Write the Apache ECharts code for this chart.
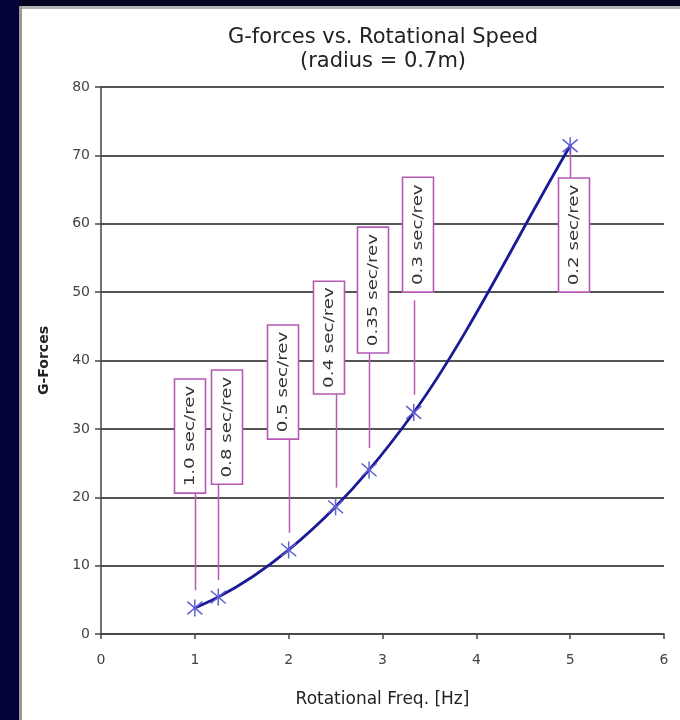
<!DOCTYPE html>
<html>
<head>
<meta charset="utf-8">
<script src="https://cdn.jsdelivr.net/npm/echarts@6/dist/echarts.min.js"></script>
<style>
  html, body { margin: 0; padding: 0; background: #fff; }
  #chart { width: 680px; height: 720px; }
</style>
</head>
<body>
<div id="chart"></div>
<script>
// Rotational frequency [Hz] and resulting G-forces (radius = 0.7 m)
const freq = [1, 1.25, 2, 2.5, 2.857, 3.333, 5];
const gForce = [3.8, 5.4, 12.3, 18.6, 24.0, 32.4, 71.4];

// Callout boxes: period per revolution for each point
const periodLabels = ['1.0 sec/rev', '0.8 sec/rev', '0.5 sec/rev', '0.4 sec/rev', '0.35 sec/rev', '0.3 sec/rev', '0.2 sec/rev'];
const boxCenterX = [0.943, 1.337, 1.934, 2.425, 2.894, 3.373, 5.036];
const boxBottom = [20.6, 21.9, 28.5, 35.1, 41.1, 50.0, 50.0];
const boxTop = [37.3, 38.6, 45.2, 51.6, 59.5, 66.8, 66.7];
const leaderFrom = [20.6, 21.9, 28.5, 35.1, 41.1, 48.8, 66.7];
const leaderTo = [6.4, 7.9, 14.8, 21.4, 27.2, 35.0, 71.4];

// Axis ticks
const xTicks = [0, 1, 2, 3, 4, 5, 6];
const yTicks = [0, 10, 20, 30, 40, 50, 60, 70, 80];

const FONT = 'DejaVu Sans';
const chart = echarts.init(document.getElementById('chart'), null, { renderer: 'canvas' });

const points = freq.map((f, i) => [f, gForce[i]]);
const callouts = periodLabels.map((t, i) => [boxCenterX[i], boxBottom[i], boxTop[i], freq[i], leaderFrom[i], leaderTo[i]]);

// Each curve segment carries its neighbours so a cubic Hermite piece can be built
const n = freq.length;
const segments = [];
for (let i = 0; i < n - 1; i++) {
  const a = Math.max(i - 1, 0), d = Math.min(i + 2, n - 1);
  segments.push([freq[a], gForce[a], freq[i], gForce[i], freq[i + 1], gForce[i + 1], freq[d], gForce[d]]);
}

// slope (pixel space) at pb from its neighbours, weighted by spacing
function tangent(pa, pb, pc) {
  const h0 = pb[0] - pa[0], h1 = pc[0] - pb[0];
  const s1 = (pc[1] - pb[1]) / h1;
  if (h0 === 0) return s1;
  const s0 = (pb[1] - pa[1]) / h0;
  if (h1 === 0) return s0;
  return (s0 * h1 + s1 * h0) / (h0 + h1);
}

chart.setOption({
  backgroundColor: '#ffffff',
  animation: false,
  title: {
    text: 'G-forces vs. Rotational Speed\n(radius = 0.7m)',
    left: 378, top: 21,
    textAlign: 'center',
    textStyle: { fontFamily: FONT, fontSize: 21, fontWeight: 'normal', color: '#222', lineHeight: 24 }
  },
  graphic: [
    { type: 'rect', shape: { x: 0, y: 0, width: 680, height: 6 }, style: { fill: '#04031f' }, silent: true },
    { type: 'rect', shape: { x: 0, y: 0, width: 19, height: 720 }, style: { fill: '#020236' }, silent: true },
    { type: 'rect', shape: { x: 19, y: 6, width: 661, height: 3 }, style: { fill: '#b4b4b4' }, silent: true },
    { type: 'rect', shape: { x: 19, y: 6, width: 3, height: 714 }, style: { fill: '#9a9a9a' }, silent: true }
  ],
  grid: { left: 101, right: 16, top: 87, bottom: 86 },
  xAxis: {
    type: 'value',
    min: xTicks[0], max: xTicks[xTicks.length - 1], interval: 1,
    name: 'Rotational Freq. [Hz]',
    nameLocation: 'middle', nameGap: 57,
    nameTextStyle: { fontFamily: FONT, fontSize: 17, color: '#222' },
    axisLine: { lineStyle: { color: '#444', width: 1.5 } },
    axisTick: { show: true, length: 5, lineStyle: { color: '#444', width: 1.5 } },
    axisLabel: { fontFamily: FONT, fontSize: 14, color: '#444', margin: 19 },
    splitLine: { show: false }
  },
  yAxis: {
    type: 'value',
    min: yTicks[0], max: yTicks[yTicks.length - 1], interval: 10,
    name: 'G-Forces',
    nameLocation: 'middle', nameGap: 50, nameRotate: 90,
    nameTextStyle: { fontFamily: FONT, fontSize: 14, fontWeight: 'bold', color: '#222' },
    axisLine: { show: true, lineStyle: { color: '#444', width: 1.5 } },
    axisTick: { show: true, length: 6, lineStyle: { color: '#444', width: 1.5 } },
    axisLabel: { fontFamily: FONT, fontSize: 14, color: '#444', margin: 11 },
    splitLine: { show: true, lineStyle: { color: '#555', width: 1.8 } }
  },
  series: [
    {
      // smoothed curve through the measured points
      type: 'custom',
      data: segments,
      z: 3,
      renderItem: function (params, api) {
        const p0 = api.coord([api.value(0), api.value(1)]);
        const p1 = api.coord([api.value(2), api.value(3)]);
        const p2 = api.coord([api.value(4), api.value(5)]);
        const p3 = api.coord([api.value(6), api.value(7)]);
        const m1 = tangent(p0, p1, p2);
        const m2 = tangent(p1, p2, p3);
        const h = (p2[0] - p1[0]) / 3;
        return {
          type: 'bezierCurve',
          shape: {
            x1: p1[0], y1: p1[1], x2: p2[0], y2: p2[1],
            cpx1: p1[0] + h, cpy1: p1[1] + m1 * h,
            cpx2: p2[0] - h, cpy2: p2[1] - m2 * h
          },
          style: { stroke: '#1a1a96', lineWidth: 2.8, fill: null, lineCap: 'round' }
        };
      }
    },
    {
      // asterisk markers
      type: 'custom',
      data: points,
      z: 4,
      renderItem: function (params, api) {
        const c = api.coord([api.value(0), api.value(1)]);
        const h = 8.5, w = 7.5;
        const st = { stroke: '#6060d4', lineWidth: 1.5 };
        return {
          type: 'group',
          children: [
            { type: 'line', shape: { x1: c[0], y1: c[1] - h, x2: c[0], y2: c[1] + h }, style: st },
            { type: 'line', shape: { x1: c[0] - w, y1: c[1] - h * 0.75, x2: c[0] + w, y2: c[1] + h * 0.75 }, style: st },
            { type: 'line', shape: { x1: c[0] - w, y1: c[1] + h * 0.75, x2: c[0] + w, y2: c[1] - h * 0.75 }, style: st }
          ]
        };
      }
    },
    {
      // period callouts with leader lines
      type: 'custom',
      data: callouts,
      z: 2,
      renderItem: function (params, api) {
        const bx = api.value(0);
        const bottom = api.coord([bx, api.value(1)]);
        const top = api.coord([bx, api.value(2)]);
        const l1 = api.coord([api.value(3), api.value(4)]);
        const l2 = api.coord([api.value(3), api.value(5)]);
        const label = periodLabels[params.dataIndex];
        const bw = 31;
        const x0 = Math.round(bottom[0] - bw / 2) + 0.5;
        const bh = bottom[1] - top[1];
        const lx = Math.round(l1[0]) + 0.5;
        return {
          type: 'group',
          children: [
            { type: 'line', shape: { x1: lx, y1: l1[1], x2: lx, y2: l2[1] },
              style: { stroke: '#b45ab4', lineWidth: 1.5 } },
            { type: 'rect', shape: { x: x0, y: top[1], width: bw, height: bh },
              style: { fill: '#ffffff', stroke: '#b45ab4', lineWidth: 1.6 } },
            { type: 'text', x: bottom[0] + 1, y: (top[1] + bottom[1]) / 2,
              rotation: Math.PI / 2, scaleX: 1.3,
              style: { text: label, fontFamily: FONT, fontSize: 14, fill: '#333', align: 'center', verticalAlign: 'middle' } }
          ]
        };
      }
    }
  ]
});
</script>
</body>
</html>
